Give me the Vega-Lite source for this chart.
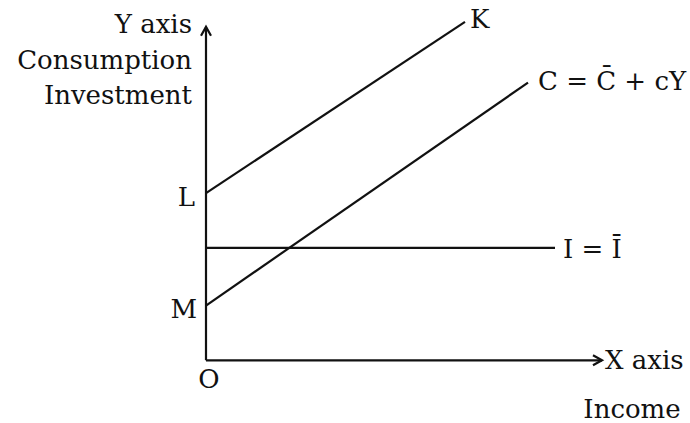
{
  "$schema": "https://vega.github.io/schema/vega-lite/v6.json",
  "width": 690,
  "height": 423,
  "autosize": {"type": "fit", "contains": "padding"},
  "padding": 0,
  "background": "white",
  "config": {"view": {"stroke": null}},
  "datasets": {
    "lines": [
      {"series": "yaxis", "ord": 1, "x": 0, "y": 0},
      {"series": "yaxis", "ord": 2, "x": 0, "y": 335},
      {"series": "yarrow", "ord": 1, "x": -5, "y": 326},
      {"series": "yarrow", "ord": 2, "x": 0, "y": 335},
      {"series": "yarrow", "ord": 3, "x": 5, "y": 326},
      {"series": "xaxis", "ord": 1, "x": 0, "y": 0},
      {"series": "xaxis", "ord": 2, "x": 396, "y": 0},
      {"series": "xarrow", "ord": 1, "x": 387, "y": 5},
      {"series": "xarrow", "ord": 2, "x": 396, "y": 0},
      {"series": "xarrow", "ord": 3, "x": 387, "y": -5},
      {"series": "LK", "ord": 1, "x": 0, "y": 168},
      {"series": "LK", "ord": 2, "x": 259, "y": 340},
      {"series": "C", "ord": 1, "x": 0, "y": 55},
      {"series": "C", "ord": 2, "x": 322, "y": 279},
      {"series": "I", "ord": 1, "x": 0, "y": 113},
      {"series": "I", "ord": 2, "x": 349, "y": 113}
    ],
    "labelsRight": [
      {"label": "Y axis", "x": -14, "y": 337},
      {"label": "Consumption", "x": -14, "y": 301},
      {"label": "Investment", "x": -14, "y": 266},
      {"label": "L", "x": -11, "y": 163},
      {"label": "M", "x": -9, "y": 51}
    ],
    "labelsLeft": [
      {"label": "K", "x": 264, "y": 342},
      {"label": "C = C\u0304 + cY", "x": 332, "y": 280},
      {"label": "I = \u012a", "x": 357, "y": 111},
      {"label": "X axis", "x": 399, "y": -1}
    ],
    "labelsCenter": [
      {"label": "O", "x": 3, "y": -20},
      {"label": "Income", "x": 426, "y": -50}
    ]
  },
  "layer": [
    {
      "data": {"name": "lines"},
      "mark": {"type": "line", "color": "#111111", "strokeWidth": 2.2},
      "encoding": {
        "x": {"field": "x", "type": "quantitative", "scale": {"domain": [-206, 484], "nice": false, "zero": false}, "axis": null},
        "y": {"field": "y", "type": "quantitative", "scale": {"domain": [-61, 362], "nice": false, "zero": false}, "axis": null},
        "detail": {"field": "series", "type": "nominal"},
        "order": {"field": "ord", "type": "quantitative"}
      }
    },
    {
      "data": {"name": "labelsRight"},
      "mark": {"type": "text", "align": "right", "baseline": "middle", "font": "DejaVu Serif", "fontSize": 26, "color": "#111111"},
      "encoding": {
        "x": {"field": "x", "type": "quantitative"},
        "y": {"field": "y", "type": "quantitative"},
        "text": {"field": "label"}
      }
    },
    {
      "data": {"name": "labelsLeft"},
      "mark": {"type": "text", "align": "left", "baseline": "middle", "font": "DejaVu Serif", "fontSize": 26, "color": "#111111"},
      "encoding": {
        "x": {"field": "x", "type": "quantitative"},
        "y": {"field": "y", "type": "quantitative"},
        "text": {"field": "label"}
      }
    },
    {
      "data": {"name": "labelsCenter"},
      "mark": {"type": "text", "align": "center", "baseline": "middle", "font": "DejaVu Serif", "fontSize": 26, "color": "#111111"},
      "encoding": {
        "x": {"field": "x", "type": "quantitative"},
        "y": {"field": "y", "type": "quantitative"},
        "text": {"field": "label"}
      }
    }
  ]
}
